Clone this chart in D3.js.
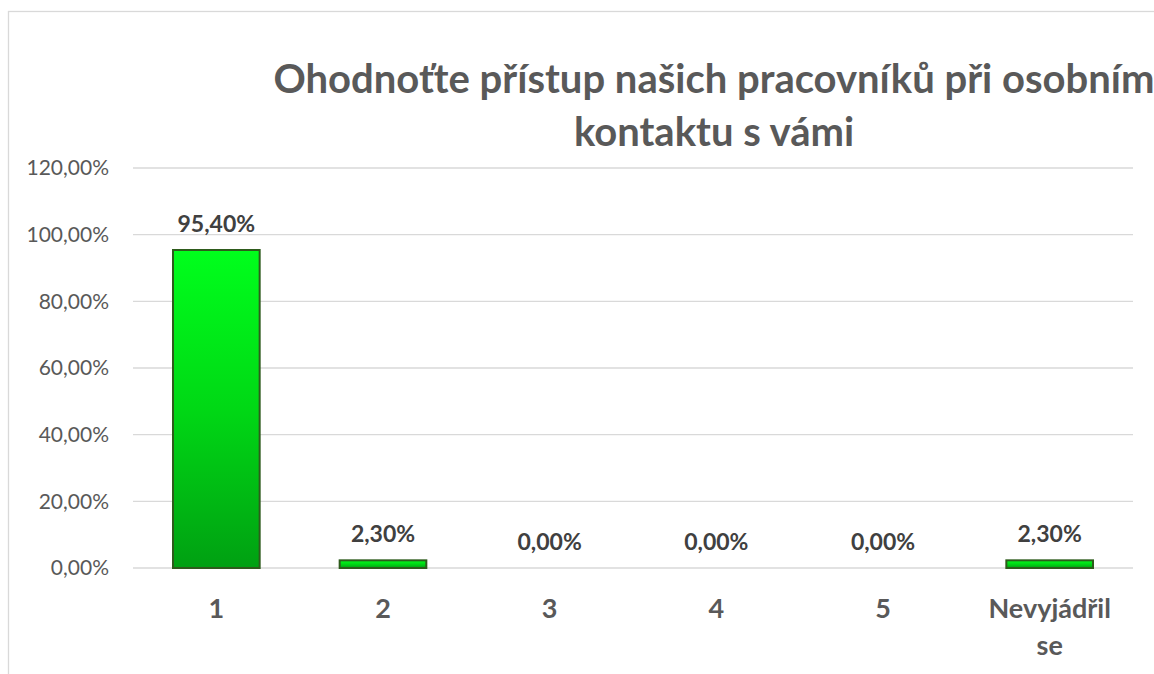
<!DOCTYPE html>
<html>
<head>
<meta charset="UTF-8">
<title>chart</title>
<style>
    body { margin: 0; background: #fff; }
    text { font-family: Lato, "Open Sans", sans-serif; }
    .axis text { fill: #595959; font-size: 21px; }
    .grid line { stroke: #d9d9d9; stroke-width: 1.3; }
    .title { fill: #595959; font-weight: bold; font-size: 40px; }
    .label { fill: #404040; font-weight: bold; font-size: 23px; }
    .xlab { fill: #595959; font-weight: bold; font-size: 27px; }
</style>
</head>
<body>
<script src="https://d3js.org/d3.v7.min.js"></script>
<script>
    var categories = ["1", "2", "3", "4", "5", "Nevyjádřil se"];
    var values = [95.4, 2.3, 0, 0, 0, 2.3];
    var yTicks = [0, 20, 40, 60, 80, 100, 120];
    var titleLines = ["Ohodnoťte přístup našich pracovníků při osobním", "kontaktu s vámi"];

    var W = 1154, H = 674;
    var margin = {top: 168, right: 21, bottom: 106, left: 133},
        width = W - margin.left - margin.right,
        height = H - margin.top - margin.bottom;

    var fmt = function (v) { return d3.format(".2f")(v).replace(".", ",") + "%"; };

    var svg = d3.select("body").append("svg")
            .attr("width", W)
            .attr("height", H);

    // chart frame (runs off the right and bottom edge)
    svg.append("rect")
            .attr("x", 8.5).attr("y", 11.5)
            .attr("width", W + 20).attr("height", H + 20)
            .attr("fill", "none").attr("stroke", "#d9d9d9").attr("stroke-width", 1.3);

    var defs = svg.append("defs");
    var grad = defs.append("linearGradient")
            .attr("id", "barGrad").attr("x1", 0).attr("y1", 0).attr("x2", 0).attr("y2", 1);
    grad.append("stop").attr("offset", "0%").attr("stop-color", "#00ff1c");
    grad.append("stop").attr("offset", "50%").attr("stop-color", "#00d815");
    grad.append("stop").attr("offset", "100%").attr("stop-color", "#00a012");

    var g = svg.append("g")
            .attr("transform", "translate(" + margin.left + "," + margin.top + ")");

    var x = d3.scaleBand()
            .domain(categories)
            .range([0, width])
            .paddingInner(0.48)
            .paddingOuter(0.24);

    var y = d3.scaleLinear()
            .domain([0, 120])
            .range([height, 0]);

    // gridlines
    g.append("g")
            .attr("class", "grid")
            .selectAll("line")
            .data(yTicks)
            .join("line")
            .attr("x1", 0).attr("x2", width)
            .attr("y1", function (d) { return y(d); })
            .attr("y2", function (d) { return y(d); });

    var yAxis = d3.axisLeft(y)
            .tickValues(yTicks)
            .tickSize(0)
            .tickPadding(24)
            .tickFormat(fmt);

    g.append("g")
            .attr("class", "y axis")
            .call(yAxis)
            .call(function (s) { s.select(".domain").remove(); });

    // bars
    g.selectAll("rect.bar")
            .data(values)
            .join("rect")
            .attr("class", "bar")
            .attr("x", function (d, i) { return x(categories[i]); })
            .attr("y", function (d) { return y(d); })
            .attr("width", x.bandwidth())
            .attr("height", function (d) { return y(0) - y(d); })
            .attr("fill", "url(#barGrad)")
            .attr("stroke", function (d) { return d > 0 ? "#2e5b1c" : "none"; })
            .attr("stroke-width", 2);

    // data labels
    g.selectAll("text.label")
            .data(values)
            .join("text")
            .attr("class", "label")
            .attr("text-anchor", "middle")
            .attr("x", function (d, i) { return x(categories[i]) + x.bandwidth() / 2; })
            .attr("y", function (d) { return y(d) - 18; })
            .text(fmt);

    // x labels
    var xl = g.selectAll("text.xlab")
            .data(categories)
            .join("text")
            .attr("class", "xlab")
            .attr("text-anchor", "middle")
            .attr("transform", function (d) { return "translate(" + (x(d) + x.bandwidth() / 2) + "," + (height + 50) + ")"; });
    xl.each(function (d) {
        var words = d === "Nevyjádřil se" ? ["Nevyjádřil", "se"] : [d];
        d3.select(this).selectAll("tspan")
                .data(words)
                .join("tspan")
                .attr("x", 0)
                .attr("dy", function (w, i) { return i === 0 ? 0 : 37; })
                .text(function (w) { return w; });
    });

    // title
    svg.append("text")
            .attr("class", "title")
            .attr("text-anchor", "middle")
            .selectAll("tspan")
            .data(titleLines)
            .join("tspan")
            .attr("x", 714)
            .attr("y", function (d, i) { return 93 + i * 53; })
            .text(function (d) { return d; });
</script>
</body>
</html>
